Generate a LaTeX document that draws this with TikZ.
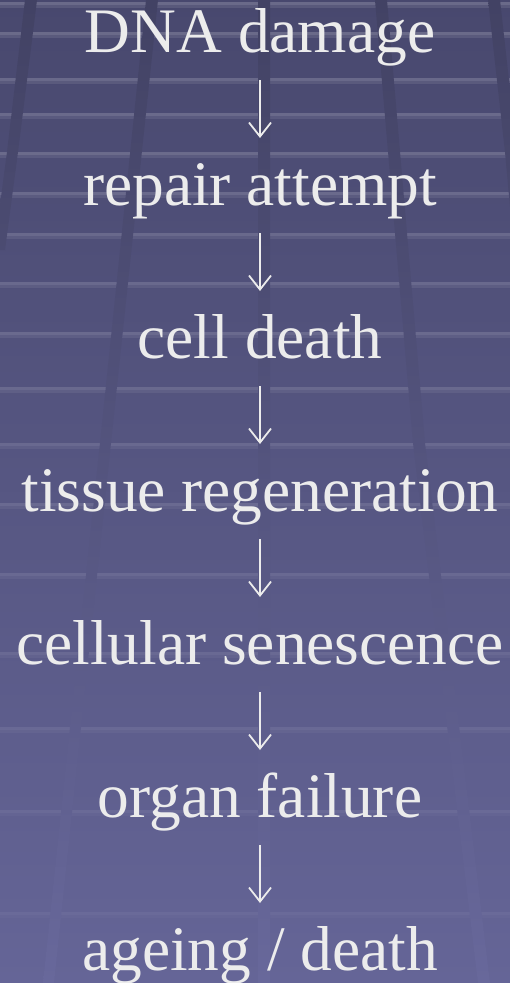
\documentclass[tikz,border=0pt]{standalone}
\usepackage{fontspec}
\setmainfont{Liberation Serif}
\usetikzlibrary{arrows.meta}

\definecolor{bgtop}{RGB}{72,72,110}
\definecolor{bgbot}{RGB}{101,101,151}
\definecolor{bandtop}{RGB}{66,66,100}
\definecolor{bandbot}{RGB}{104,104,155}
\definecolor{ink}{RGB}{236,236,236}

\begin{document}
\begin{tikzpicture}[x=1pt, y=1pt,
  >={Straight Barb[length=14pt, width=22pt]},
  stage/.style={anchor=base, inner sep=0pt, text=ink,
    font=\fontsize{63.4}{76}\selectfont},
  flow/.style={->, draw=ink, line width=1.8pt},
  band/.style={top color=bandtop, bottom color=bandbot}]

  % fondo
  \useasboundingbox (0,0) rectangle (510,-983);
  \shade[top color=bgtop, bottom color=bgbot] (0,0) rectangle (510,-983);
  \foreach \y in {2,32,78,113,152,192,233,282,332,387,443,503,573,652,727,810,912} {
    \pgfmathsetmacro\o{0.19-0.15*\y/983}
    \pgfmathsetmacro\h{\o/2}
    \fill[white, opacity=\o] (0,-\y) rectangle (510,-\y-3);
    \fill[white, opacity=\h] (0,-\y-3) rectangle (510,-\y-6);
  }

  % juntas
  \shade[band] (258,0) rectangle (270,-983);
  \shade[band] (146,0) -- (158,0) -- (111,-443) -- (54,-983)
    -- (43,-983) -- (100,-443) -- cycle;
  \shade[band] (375,0) -- (387,0) -- (425,-443) -- (490,-983)
    -- (478,-983) -- (413,-443) -- cycle;
  \shade[top color=bandtop, bottom color=bandbot!25!bandtop]
    (25,0) -- (37,0) -- (18,-152) -- (5,-250) -- (-6,-250) -- (7,-152) -- cycle;
  \shade[top color=bandtop, bottom color=bandbot!25!bandtop]
    (488,0) -- (500,0) -- (517,-152) -- (526,-250) -- (514,-250) -- (505,-152) -- cycle;

  % etapas
  \node[stage] (dna)    at (260,-52)  {DNA damage};
  \node[stage] (repair) at (260,-205) {repair attempt};
  \node[stage] (cdeath) at (260,-358) {cell death};
  \node[stage] (tissue) at (260,-511) {tissue regeneration};
  \node[stage] (senesc) at (260,-664) {cellular senescence};
  \node[stage] (organ)  at (260,-817) {organ failure};
  \node[stage] (ageing) at (260,-970) {ageing / death};

  \foreach \a/\b in {dna/repair, repair/cdeath, cdeath/tissue,
                     tissue/senesc, senesc/organ, organ/ageing}
    \draw[flow] ([yshift=-28pt]\a.base) -- ([yshift=67pt]\b.base);
\end{tikzpicture}
\end{document}
